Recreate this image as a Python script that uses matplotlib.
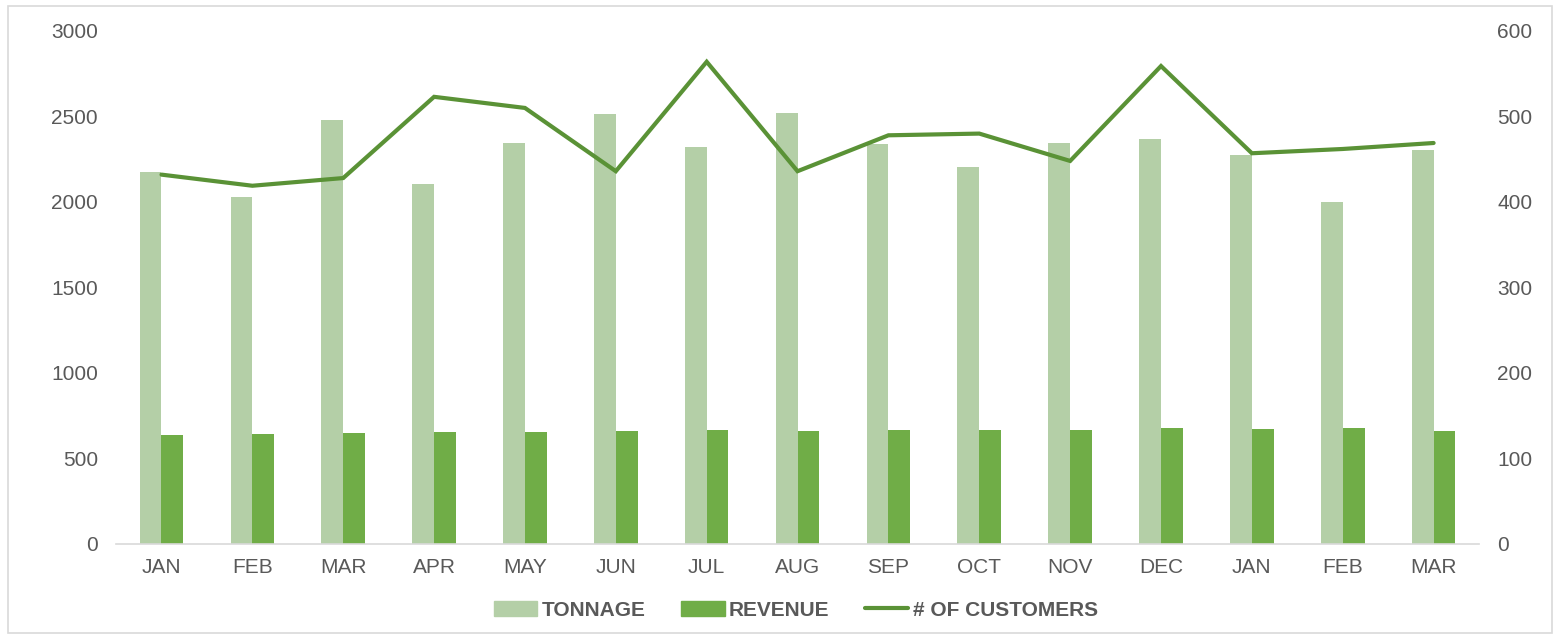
import numpy as np
import matplotlib.pyplot as plt
from matplotlib.patches import Rectangle
from matplotlib.lines import Line2D

# ------------------------------------------------------------
# Data
# ------------------------------------------------------------
months = ["JAN", "FEB", "MAR", "APR", "MAY", "JUN", "JUL", "AUG",
          "SEP", "OCT", "NOV", "DEC", "JAN", "FEB", "MAR"]
tonnage = [2175, 2029, 2480, 2105, 2345, 2515, 2322, 2520,
           2339, 2205, 2345, 2368, 2275, 2000, 2304]
revenue = [637, 643, 649, 655, 655, 661, 667, 661,
           667, 667, 667, 678, 672, 678, 661]
customers = [432, 419, 428, 523, 510, 436, 564, 436,
             478, 480, 448, 559, 457, 462, 469]

plt.rcParams['font.family'] = ['Liberation Sans', 'DejaVu Sans']
text_col = "#595959"
c_ton = "#B4CFA7"
c_rev = "#70AD47"
c_cust = "#5A9236"

fig = plt.figure(figsize=(15.6, 6.39), dpi=100)
ax = fig.add_axes([0.0744, 0.1487, 0.8737, 0.8028])
ax2 = ax.twinx()

x = np.arange(len(months))
w = 0.24
ax.bar(x - w / 2, tonnage, w, color=c_ton, zorder=2)
ax.bar(x + w / 2, revenue, w, color=c_rev, zorder=2)
ax2.plot(x, customers, color=c_cust, lw=3, solid_capstyle="round", solid_joinstyle="miter")

ax.set_xlim(-0.5, len(months) - 0.5)
ax.set_ylim(0, 3000)
ax2.set_ylim(0, 600)
ax.set_yticks(range(0, 3001, 500))
ax2.set_yticks(range(0, 601, 100))
ax.set_xticks(x)
ax.set_xticklabels(months)

for a in (ax, ax2):
    for s in a.spines.values():
        s.set_visible(False)
    a.tick_params(length=0, labelsize=15, labelcolor=text_col)
ax.spines["bottom"].set_visible(True)
ax.spines["bottom"].set_color("#D9D9D9")
ax.spines["bottom"].set_linewidth(1.2)
ax.tick_params(axis="y", pad=13)
ax.tick_params(axis="x", pad=10)
ax2.tick_params(axis="y", pad=13)

handles = [Rectangle((0, 0), 1, 1, color=c_ton),
           Rectangle((0, 0), 1, 1, color=c_rev),
           Line2D([0], [0], color=c_cust, lw=3, solid_capstyle="round")]
leg = fig.legend(handles, ["TONNAGE", "REVENUE", "# OF CUSTOMERS"],
                 loc="center", bbox_to_anchor=(0.51, 0.045), ncol=3,
                 frameon=False, handlelength=2.1, handleheight=0.7,
                 handletextpad=0.2, columnspacing=1.7,
                 prop={"weight": "bold", "size": 15})
for t in leg.get_texts():
    t.set_color(text_col)

fig.patches.append(Rectangle((0.005, 0.01), 0.99, 0.98, transform=fig.transFigure,
                             fill=False, edgecolor="#D9D9D9", lw=1.2))

fig.savefig("out.png", dpi=100)
